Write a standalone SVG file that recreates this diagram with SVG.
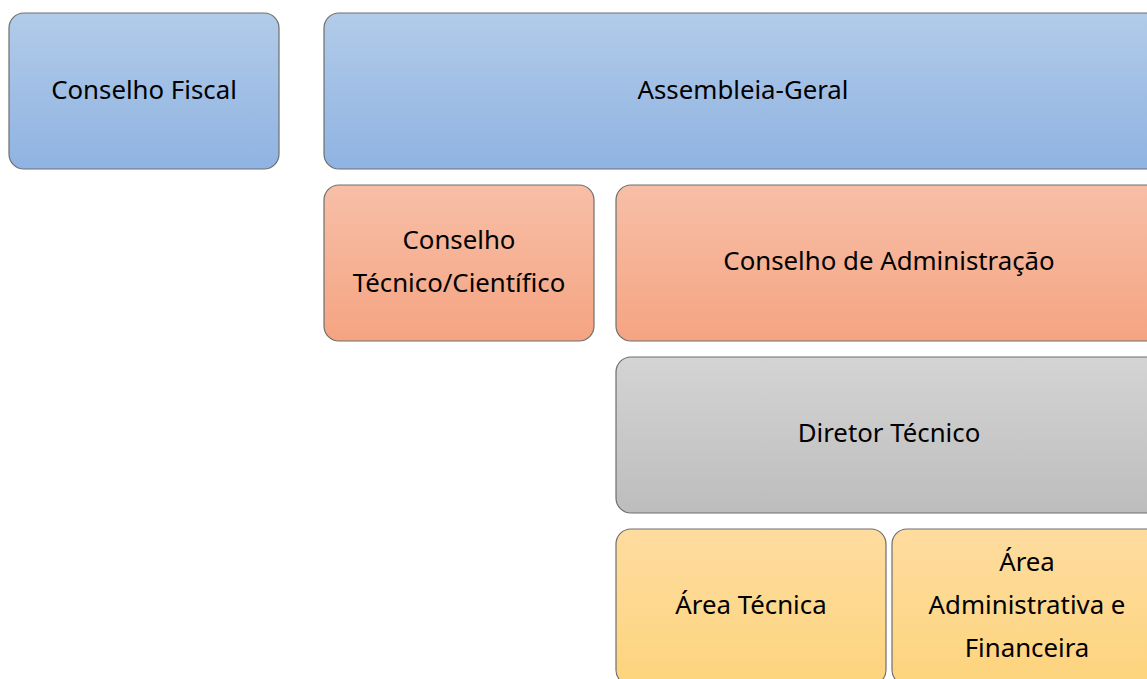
<svg xmlns="http://www.w3.org/2000/svg" width="1147" height="679" viewBox="0 0 1147 679">
<defs>
<linearGradient id="gBlue" x1="0" y1="0" x2="0" y2="1"><stop offset="0" stop-color="#b2cbe9"/><stop offset="1" stop-color="#8fb3e2"/></linearGradient>
<linearGradient id="gOrange" x1="0" y1="0" x2="0" y2="1"><stop offset="0" stop-color="#f7bfa7"/><stop offset="1" stop-color="#f5a482"/></linearGradient>
<linearGradient id="gGray" x1="0" y1="0" x2="0" y2="1"><stop offset="0" stop-color="#d4d4d4"/><stop offset="1" stop-color="#bdbdbd"/></linearGradient>
<linearGradient id="gYellow" x1="0" y1="0" x2="0" y2="1"><stop offset="0" stop-color="#fedc9f"/><stop offset="1" stop-color="#fdd47d"/></linearGradient>
</defs>
<style>
rect{stroke:#6e6e6e;stroke-width:1.2}
text{font-family:"Noto Sans","Open Sans","DejaVu Sans",sans-serif;font-size:25.8px;fill:#000;text-anchor:middle;dominant-baseline:central}
</style>
<g id="conselho-fiscal"><rect x="9" y="13" width="270" height="156" rx="15" fill="url(#gBlue)"/><text x="144" y="89">Conselho Fiscal</text></g>
<g id="assembleia-geral"><rect x="324" y="13" width="840" height="156" rx="15" fill="url(#gBlue)"/><text x="743" y="89">Assembleia-Geral</text></g>
<g id="conselho-tecnico"><rect x="324" y="185" width="270" height="156" rx="15" fill="url(#gOrange)"/><text x="459" y="239">Conselho</text><text x="459" y="282">Técnico/Científico</text></g>
<g id="conselho-administracao"><rect x="616" y="185" width="548" height="156" rx="15" fill="url(#gOrange)"/><text x="889" y="260">Conselho de Administração</text></g>
<g id="diretor-tecnico"><rect x="616" y="357" width="548" height="156" rx="15" fill="url(#gGray)"/><text x="889" y="432">Diretor Técnico</text></g>
<g id="area-tecnica"><rect x="616" y="529" width="270" height="156" rx="15" fill="url(#gYellow)"/><text x="751" y="604">Área Técnica</text></g>
<g id="area-administrativa"><rect x="892" y="529" width="272" height="156" rx="15" fill="url(#gYellow)"/><text x="1027" y="561">Área</text><text x="1027" y="604">Administrativa e</text><text x="1027" y="647">Financeira</text></g>
<g id="connectors"></g>
</svg>
